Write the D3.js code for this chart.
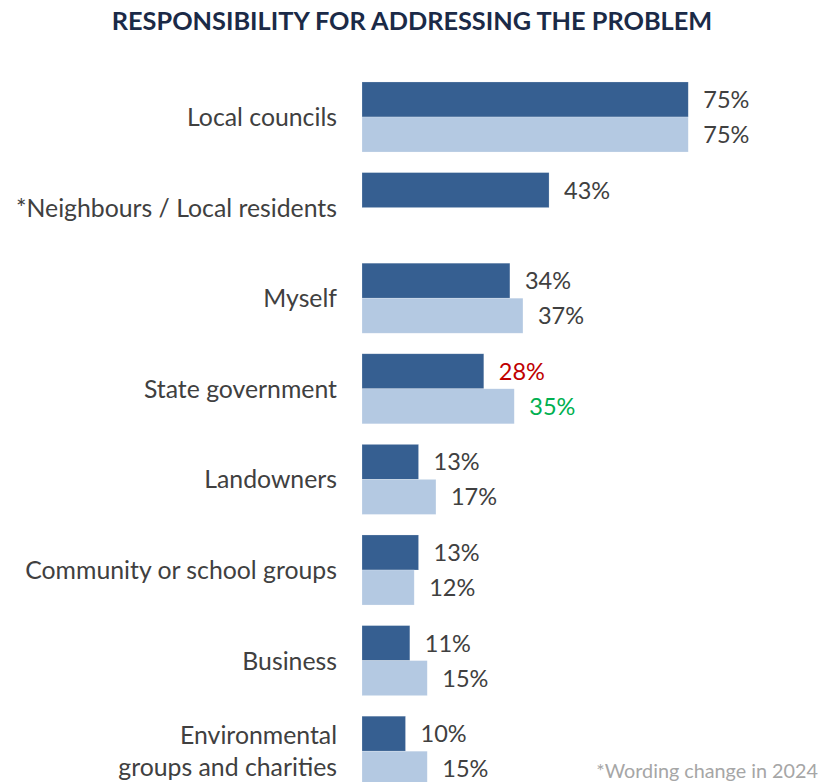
<!DOCTYPE html>
<html>
<head>
<meta charset="utf-8">
<script src="https://cdn.jsdelivr.net/npm/d3@7"></script>
<style>
  html, body { margin: 0; padding: 0; background: #ffffff; }
  svg { display: block; }
</style>
</head>
<body>
<svg id="chart" width="835" height="782"></svg>
<script>
// Who respondents see as responsible for addressing the problem
const categories = [
  "Local councils",
  "*Neighbours / Local residents",
  "Myself",
  "State government",
  "Landowners",
  "Community or school groups",
  "Business",
  "Environmental\ngroups and charities"
];
const seriesNames = ["2024", "Previous"];
const values2024 = [75, 43, 34, 28, 13, 13, 11, 10];
const valuesPrevious = [75, null, 37, 35, 17, 12, 15, 15];
// label colours flag significant changes (red = down, green = up)
const labelColors2024 = ["#404040", "#404040", "#404040", "#c00000", "#404040", "#404040", "#404040", "#404040"];
const labelColorsPrevious = ["#404040", "#404040", "#404040", "#00b050", "#404040", "#404040", "#404040", "#404040"];
const titleText = "RESPONSIBILITY FOR ADDRESSING THE PROBLEM";
const footnoteText = "*Wording change in 2024";

const seriesColors = ["#365f91", "#b4c9e2"];
const font = "Lato, 'Open Sans', sans-serif";

const svg = d3.select("#chart");

const x = d3.scaleLinear().domain([0, 100]).range([362, 797]);
const y = d3.scaleBand()
  .domain(categories)
  .range([71.7, 796.5])
  .paddingInner(0.227)
  .paddingOuter(0.1135);
const ySub = d3.scaleBand()
  .domain(seriesNames)
  .range([0, y.bandwidth()])
  .padding(0);

const rows = categories.map((c, i) => ({
  category: c,
  bars: [
    { series: seriesNames[0], value: values2024[i], color: seriesColors[0], labelColor: labelColors2024[i] },
    { series: seriesNames[1], value: valuesPrevious[i], color: seriesColors[1], labelColor: labelColorsPrevious[i] }
  ].filter(d => d.value != null)
}));

// Title
svg.append("text")
  .attr("x", 412)
  .attr("y", 30)
  .attr("text-anchor", "middle")
  .attr("font-family", font)
  .attr("font-weight", 700)
  .attr("font-size", 25.3)
  .attr("fill", "#1b2a47")
  .text(titleText);

const groups = svg.selectAll("g.row")
  .data(rows)
  .join("g")
  .attr("class", "row")
  .attr("transform", d => `translate(0,${y(d.category)})`);

groups.selectAll("rect")
  .data(d => d.bars)
  .join("rect")
  .attr("x", x(0))
  .attr("y", d => ySub(d.series))
  .attr("width", d => x(d.value) - x(0))
  .attr("height", ySub.bandwidth())
  .attr("fill", d => d.color)
  .attr("stroke", "#ffffff")
  .attr("stroke-opacity", 0.35)
  .attr("stroke-width", 0.6);

groups.selectAll("text.value")
  .data(d => d.bars)
  .join("text")
  .attr("class", "value")
  .attr("x", d => x(d.value) + 15)
  .attr("y", d => ySub(d.series) + ySub.bandwidth() / 2)
  .attr("dy", "0.36em")
  .attr("font-family", font)
  .attr("font-size", 23.5)
  .attr("fill", d => d.labelColor)
  .text(d => d.value + "%");

// Category labels (right-aligned, multi-line where needed)
groups.each(function (d) {
  const lines = d.category.split("\n");
  const lh = 32;
  const t = d3.select(this).append("text")
    .attr("class", "category")
    .attr("x", 337)
    .attr("text-anchor", "end")
    .attr("font-family", font)
    .attr("font-size", 24.8)
    .attr("fill", "#404040");
  lines.forEach((line, i) => {
    t.append("tspan")
      .attr("x", 337)
      .attr("y", y.bandwidth() / 2 + (i - (lines.length - 1) / 2) * lh)
      .attr("dy", "0.36em")
      .text(line);
  });
});

// Footnote
svg.append("text")
  .attr("x", 818)
  .attr("y", 778)
  .attr("text-anchor", "end")
  .attr("font-family", font)
  .attr("font-size", 19.8)
  .attr("fill", "#a6a6a6")
  .text(footnoteText);
</script>
</body>
</html>
